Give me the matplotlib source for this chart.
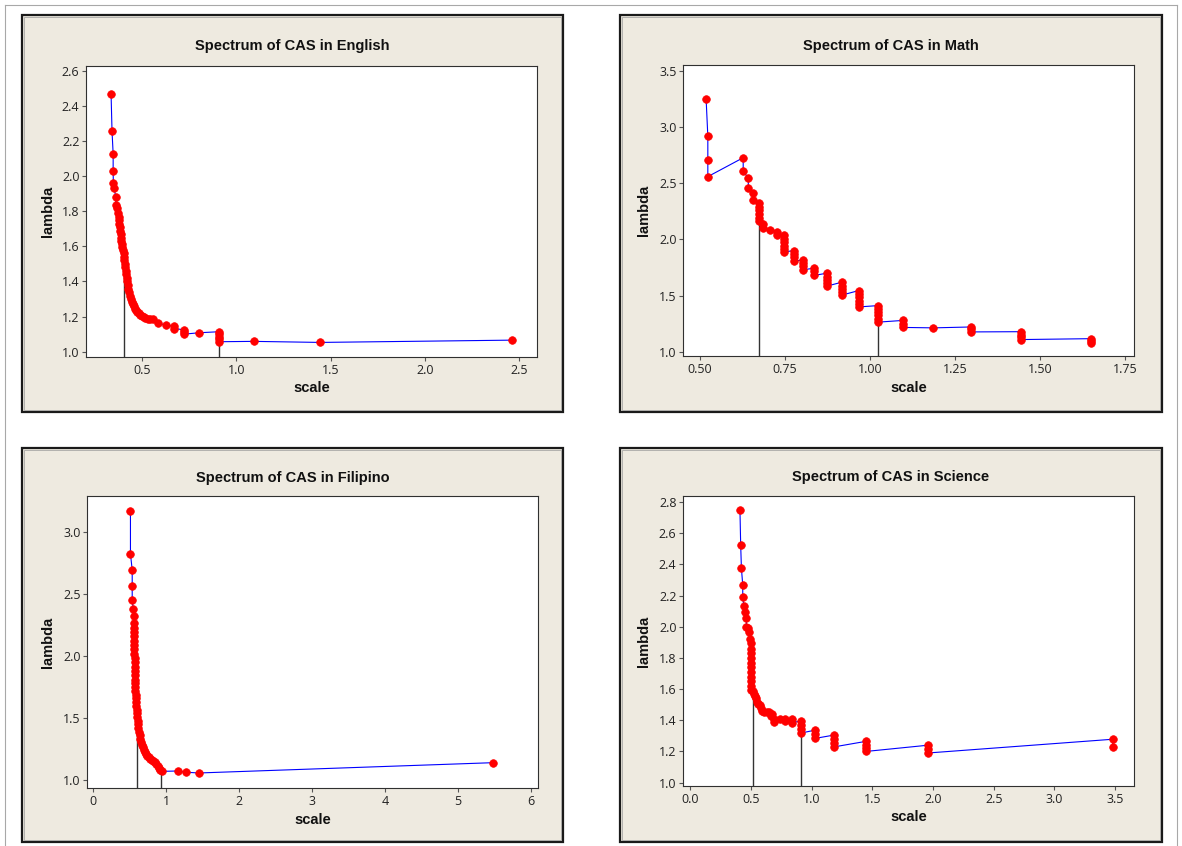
import matplotlib.pyplot as plt
from matplotlib.patches import Rectangle
from matplotlib.lines import Line2D

# (scale, lambda) pairs
english = [
    (0.336, 2.467), (0.341, 2.256), (0.347, 2.127), (0.347, 2.027), (0.348, 1.962),
    (0.353, 1.930), (0.360, 1.883), (0.362, 1.835), (0.368, 1.818),
    (0.374, 1.790), (0.376, 1.770), (0.378, 1.750), (0.380, 1.730), (0.382, 1.710),
    (0.384, 1.690), (0.386, 1.670), (0.388, 1.650), (0.390, 1.630), (0.393, 1.612),
    (0.396, 1.595), (0.399, 1.578), (0.402, 1.560), (0.404, 1.540), (0.406, 1.520),
    (0.408, 1.500), (0.410, 1.480), (0.413, 1.460), (0.416, 1.440), (0.419, 1.420),
    (0.422, 1.400), (0.425, 1.380), (0.428, 1.360), (0.432, 1.340), (0.436, 1.320),
    (0.440, 1.300), (0.445, 1.285), (0.450, 1.270), (0.456, 1.258), (0.462, 1.246),
    (0.468, 1.236), (0.475, 1.226), (0.483, 1.218), (0.491, 1.210), (0.500, 1.205),
    (0.508, 1.198), (0.516, 1.192), (0.530, 1.188), (0.545, 1.186), (0.560, 1.184),
    (0.586, 1.162), (0.626, 1.152), (0.670, 1.145), (0.670, 1.132), (0.723, 1.125),
    (0.723, 1.112), (0.723, 1.100), (0.802, 1.108), (0.910, 1.114), (0.910, 1.100),
    (0.910, 1.086), (0.910, 1.072), (0.910, 1.057), (1.092, 1.059), (1.445, 1.053),
    (2.462, 1.066),
]
english_marks = [(0.405, 1.456), (0.910, 1.078)]

math = [
    (0.518, 3.246), (0.523, 2.917), (0.523, 2.706), (0.523, 2.558),
    (0.627, 2.726), (0.627, 2.608), (0.642, 2.543), (0.642, 2.459), (0.655, 2.415),
    (0.655, 2.350), (0.672, 2.320), (0.672, 2.290), (0.672, 2.260), (0.672, 2.225),
    (0.672, 2.190), (0.672, 2.160), (0.686, 2.135), (0.686, 2.105), (0.706, 2.083),
    (0.727, 2.070), (0.727, 2.040), (0.748, 2.035), (0.748, 2.005), (0.748, 1.975),
    (0.748, 1.945), (0.748, 1.915), (0.748, 1.890), (0.776, 1.900), (0.776, 1.870),
    (0.776, 1.840), (0.776, 1.805), (0.804, 1.820), (0.804, 1.790), (0.804, 1.760),
    (0.804, 1.730), (0.836, 1.745), (0.836, 1.715), (0.836, 1.680), (0.873, 1.700),
    (0.873, 1.670), (0.873, 1.640), (0.873, 1.610), (0.873, 1.585), (0.917, 1.620),
    (0.917, 1.590), (0.917, 1.560), (0.917, 1.530), (0.917, 1.505), (0.966, 1.545),
    (0.966, 1.515), (0.966, 1.485), (0.966, 1.455), (0.966, 1.425), (0.966, 1.400),
    (1.024, 1.412), (1.024, 1.385), (1.024, 1.355), (1.024, 1.325), (1.024, 1.295),
    (1.024, 1.265), (1.096, 1.280), (1.096, 1.250), (1.096, 1.218), (1.186, 1.214),
    (1.297, 1.222), (1.297, 1.200), (1.297, 1.178), (1.443, 1.180), (1.443, 1.155),
    (1.443, 1.130), (1.443, 1.110), (1.650, 1.118), (1.650, 1.095), (1.650, 1.080),
]
math_marks = [(0.672, 2.160), (1.024, 1.262)]

filipino = [
    (0.510, 3.167), (0.510, 2.825), (0.534, 2.694), (0.534, 2.567), (0.534, 2.452),
    (0.549, 2.379), (0.559, 2.320), (0.556, 2.264), (0.558, 2.230), (0.560, 2.195),
    (0.561, 2.160), (0.562, 2.125), (0.563, 2.090), (0.564, 2.055), (0.565, 2.020),
    (0.566, 1.985), (0.567, 1.950), (0.568, 1.915), (0.569, 1.880), (0.570, 1.845),
    (0.572, 1.810), (0.574, 1.780), (0.576, 1.750), (0.579, 1.720), (0.582, 1.690),
    (0.585, 1.660), (0.588, 1.630), (0.592, 1.600), (0.596, 1.570), (0.600, 1.540),
    (0.605, 1.510), (0.610, 1.480), (0.615, 1.450), (0.620, 1.420), (0.628, 1.390),
    (0.636, 1.362), (0.645, 1.335), (0.655, 1.310), (0.665, 1.288), (0.676, 1.266),
    (0.689, 1.245), (0.705, 1.228), (0.722, 1.212), (0.740, 1.198), (0.760, 1.186),
    (0.780, 1.175), (0.800, 1.166), (0.825, 1.158), (0.845, 1.145), (0.865, 1.130),
    (0.885, 1.115), (0.905, 1.100), (0.922, 1.085), (0.936, 1.072), (1.160, 1.075),
    (1.274, 1.065), (1.448, 1.059), (5.485, 1.142),
]
filipino_marks = [(0.598, 1.484), (0.932, 1.067)]

science = [
    (0.410, 2.749), (0.416, 2.525), (0.422, 2.375), (0.433, 2.268), (0.433, 2.190),
    (0.442, 2.133), (0.454, 2.096), (0.463, 2.054), (0.463, 2.000), (0.478, 1.989),
    (0.487, 1.968), (0.490, 1.919), (0.500, 1.893), (0.500, 1.860), (0.500, 1.830),
    (0.500, 1.800), (0.500, 1.770), (0.500, 1.740), (0.500, 1.710), (0.500, 1.680),
    (0.500, 1.650), (0.500, 1.620), (0.500, 1.595), (0.516, 1.590), (0.525, 1.570),
    (0.535, 1.555), (0.545, 1.540), (0.552, 1.520), (0.560, 1.505), (0.575, 1.495),
    (0.585, 1.480), (0.595, 1.462), (0.605, 1.454), (0.630, 1.452), (0.649, 1.450),
    (0.665, 1.430), (0.678, 1.440), (0.690, 1.410), (0.690, 1.390), (0.737, 1.405),
    (0.780, 1.411), (0.780, 1.395), (0.840, 1.410), (0.840, 1.385), (0.914, 1.395),
    (0.914, 1.370), (0.914, 1.345), (0.914, 1.318), (1.026, 1.336), (1.026, 1.310),
    (1.026, 1.283), (1.185, 1.305), (1.185, 1.280), (1.185, 1.255), (1.185, 1.229),
    (1.451, 1.265), (1.451, 1.240), (1.451, 1.220), (1.451, 1.200), (1.961, 1.240),
    (1.961, 1.215), (1.961, 1.190), (3.480, 1.278), (3.480, 1.229),
]
science_marks = [(0.516, 1.593), (0.914, 1.325)]

titles = ["Spectrum of CAS in English", "Spectrum of CAS in Math",
          "Spectrum of CAS in Filipino", "Spectrum of CAS in Science"]

eng_xticks = [0.5, 1.0, 1.5, 2.0, 2.5]
eng_yticks = [1.0, 1.2, 1.4, 1.6, 1.8, 2.0, 2.2, 2.4, 2.6]
math_xticks = [0.50, 0.75, 1.00, 1.25, 1.50, 1.75]
math_yticks = [1.0, 1.5, 2.0, 2.5, 3.0, 3.5]
fil_xticks = [0, 1, 2, 3, 4, 5, 6]
fil_yticks = [1.0, 1.5, 2.0, 2.5, 3.0]
sci_xticks = [0.0, 0.5, 1.0, 1.5, 2.0, 2.5, 3.0, 3.5]
sci_yticks = [1.0, 1.2, 1.4, 1.6, 1.8, 2.0, 2.2, 2.4, 2.6, 2.8]

W, H = 1182, 846
BEIGE = '#EEEAE0'
BOLD = ['Liberation Sans Narrow', 'Liberation Sans', 'DejaVu Sans']
TICKFONT = ['Open Sans', 'DejaVu Sans']

fig = plt.figure(figsize=(W / 100, H / 100), dpi=100)
fig.patch.set_facecolor('white')


def fx(px):
    return px / W


def fy(py):
    return 1 - py / H


# thin outer border of the page
for xs, ys in [((5, 5), (5, H)), ((5, 1177), (5, 5)), ((1177, 1177), (5, H))]:
    fig.add_artist(Line2D([fx(x) for x in xs], [fy(y) for y in ys],
                          transform=fig.transFigure, color='#a8a8a8', lw=0.8))

# frame box, plot area, title y, xlabel y, ylabel x, limits, ticks, format
panels = [
    dict(data=english, marks=english_marks, title=titles[0],
         frame=(22, 15, 563, 412), area=(86, 66, 537, 357), ty=46, sy=388, lx=48,
         xlim=(0.203, 2.595), ylim=(0.97, 2.627),
         xticks=eng_xticks, yticks=eng_yticks, xfmt='{:.1f}', yfmt='{:.1f}'),
    dict(data=math, marks=math_marks, title=titles[1],
         frame=(620, 15, 1162, 412), area=(683, 65, 1134, 356), ty=46, sy=388, lx=644,
         xlim=(0.45, 1.776), ylim=(0.964, 3.55),
         xticks=math_xticks, yticks=math_yticks, xfmt='{:.2f}', yfmt='{:.1f}'),
    dict(data=filipino, marks=filipino_marks, title=titles[2],
         frame=(22, 448, 563, 842), area=(87, 496, 538, 788), ty=478, sy=820, lx=48,
         xlim=(-0.086, 6.10), ylim=(0.938, 3.29),
         xticks=fil_xticks, yticks=fil_yticks, xfmt='{:.0f}', yfmt='{:.1f}'),
    dict(data=science, marks=science_marks, title=titles[3],
         frame=(620, 448, 1162, 842), area=(683, 496, 1134, 786), ty=477, sy=817, lx=644,
         xlim=(-0.059, 3.655), ylim=(0.978, 2.839),
         xticks=sci_xticks, yticks=sci_yticks, xfmt='{:.1f}', yfmt='{:.1f}'),
]

for p in panels:
    x1, y1, x2, y2 = p['frame']
    fig.add_artist(Rectangle((fx(x1), fy(y2)), fx(x2 - x1), (y2 - y1) / H,
                             transform=fig.transFigure, facecolor=BEIGE,
                             edgecolor='#1a1a1a', lw=1.6, zorder=0))
    fig.add_artist(Rectangle((fx(x1 + 2), fy(y2 - 2)), fx(x2 - x1 - 4), (y2 - y1 - 4) / H,
                             transform=fig.transFigure, facecolor='none',
                             edgecolor='#9a9a9a', lw=0.5, zorder=0))

    a1, b1, a2, b2 = p['area']
    ax = fig.add_axes([fx(a1), fy(b2), fx(a2 - a1), (b2 - b1) / H])
    ax.set_facecolor('white')

    xs = [d[0] for d in p['data']]
    ys = [d[1] for d in p['data']]
    ax.plot(xs, ys, color='#0000ff', lw=0.8, zorder=2)
    for mx, my in p['marks']:
        ax.vlines(mx, p['ylim'][0], my, color='#333333', lw=1.0, zorder=2.5)
    ax.plot(xs, ys, 'o', color='#ff0000', ms=5.5, mec='#ff0000', mew=0.5, zorder=3)

    ax.set_xlim(*p['xlim'])
    ax.set_ylim(*p['ylim'])
    ax.set_xticks(p['xticks'])
    ax.set_xticklabels([p['xfmt'].format(v) for v in p['xticks']])
    ax.set_yticks(p['yticks'])
    ax.set_yticklabels([p['yfmt'].format(v) for v in p['yticks']])
    ax.tick_params(direction='out', length=3.2, width=0.8, color='#555555',
                   labelcolor='#222222', labelsize=9, pad=1.5)
    for lab in ax.get_xticklabels() + ax.get_yticklabels():
        lab.set_family(TICKFONT)
    for sp in ax.spines.values():
        sp.set_color('#303030')
        sp.set_linewidth(0.8)

    fig.text(fx((x1 + x2) / 2), fy(p['ty']), p['title'], ha='center', va='center',
             fontsize=10.5, fontweight='bold', family=BOLD, color='#111111')
    fig.text(fx((a1 + a2) / 2), fy(p['sy']), 'scale', ha='center', va='center',
             fontsize=10.5, fontweight='bold', family=BOLD, color='#111111')
    fig.text(fx(p['lx']), fy((b1 + b2) / 2), 'lambda', ha='center', va='center',
             rotation=90, fontsize=10.5, fontweight='bold', family=BOLD, color='#111111')

fig.savefig('out.png', dpi=100, facecolor='white')
